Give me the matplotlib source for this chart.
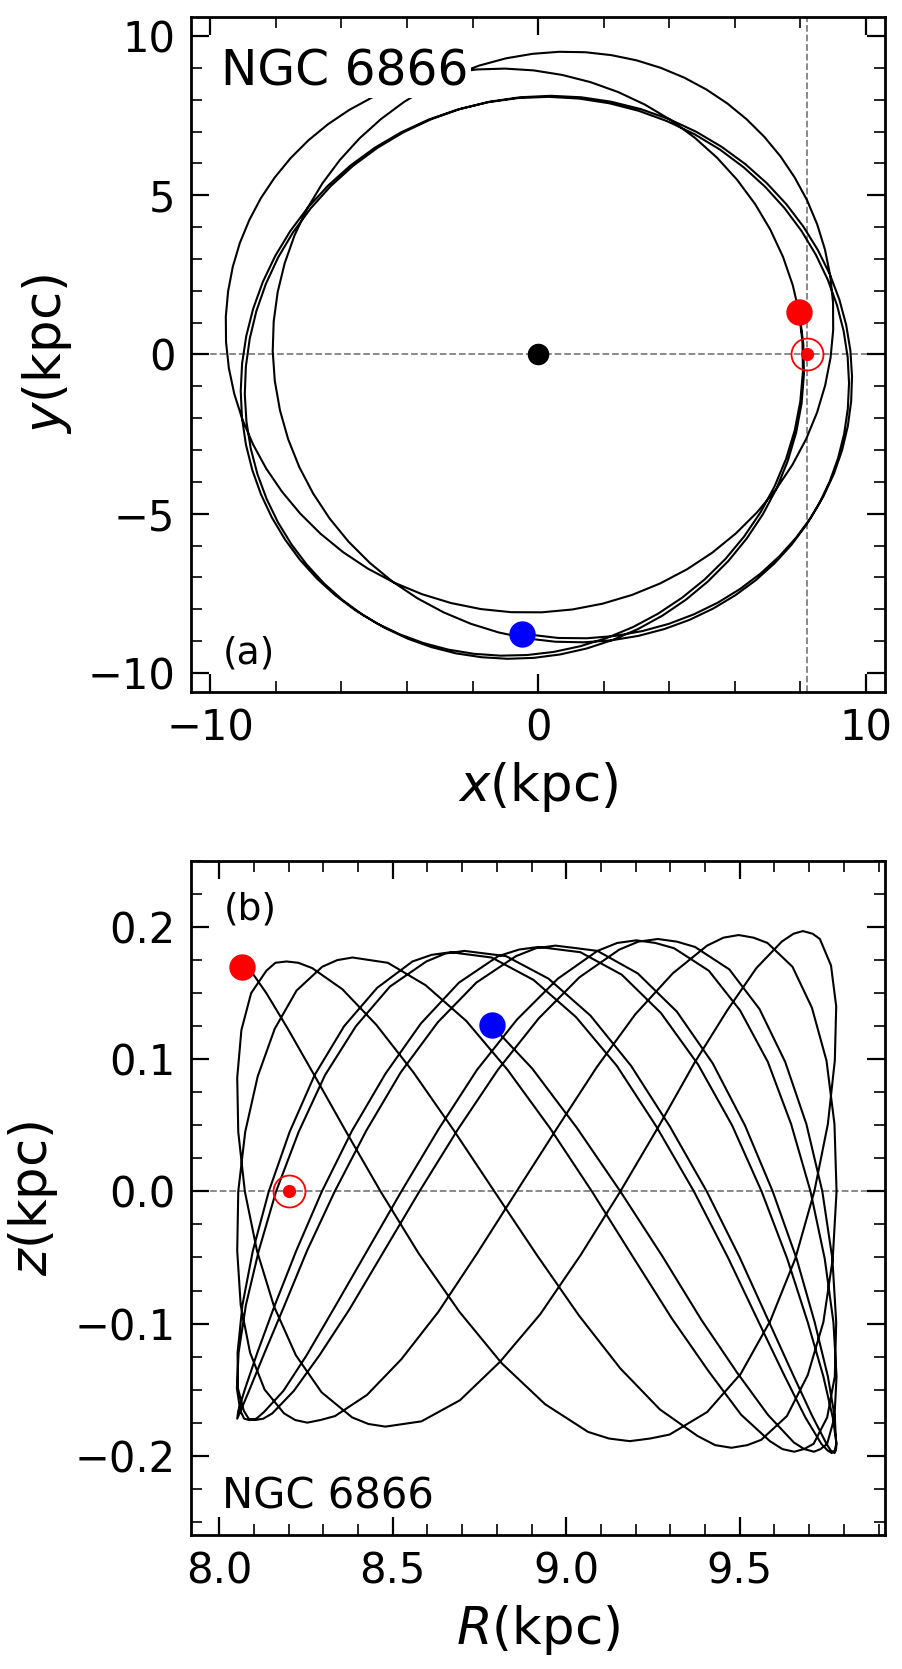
import matplotlib
matplotlib.use("Agg")
import matplotlib.pyplot as plt
from matplotlib.ticker import MultipleLocator

# cluster positions (kpc): present day, birth, plus the Sun and the Galactic centre
now_xy = (7.96, 1.33)
birth_xy = (-0.48, -8.77)
sun_xy = (8.2, 0.0)
gc_xy = (0.0, 0.0)
now_Rz = (8.065, 0.170)
birth_Rz = (8.785, 0.126)
sun_Rz = (8.2, 0.0)

# orbit in the Galactic plane, traced from the present position back to birth
orbit_x = [
    7.960, 8.067, 8.081, 8.002, 7.830, 7.567, 7.218, 6.790, 6.285, 5.716, 5.080, 4.393,
    3.665, 2.901, 2.109, 1.300, 0.483, -0.337, -1.150, -1.952, -2.734, -3.493, -4.222, -4.917,
    -5.573, -6.186, -6.748, -7.268, -7.721, -8.122, -8.456, -8.722, -8.917, -9.035, -9.074, -9.032,
    -8.906, -8.695, -8.400, -8.021, -7.560, -7.020, -6.406, -5.724, -4.980, -4.181, -3.337, -2.454,
    -1.545, -0.616, 0.320, 1.254, 2.175, 3.075, 3.942, 4.772, 5.547, 6.272, 6.928, 7.519,
    8.037, 8.478, 8.840, 9.122, 9.324, 9.446, 9.488, 9.451, 9.340, 9.155, 8.900, 8.575,
    8.184, 7.730, 7.214, 6.642, 6.016, 5.339, 4.620, 3.858, 3.061, 2.236, 1.388, 0.528,
    -0.339, -1.202, -2.052, -2.880, -3.677, -4.432, -5.135, -5.783, -6.361, -6.864, -7.288, -7.627,
    -7.876, -8.034, -8.098, -8.068, -7.946, -7.732, -7.431, -7.045, -6.582, -6.050, -5.450, -4.798,
    -4.095, -3.355, -2.583, -1.789, -0.983, -0.170, 0.642, 1.445, 2.234, 3.002, 3.745, 4.458,
    5.134, 5.772, 6.363, 6.908, 7.401, 7.834, 8.208, 8.516, 8.753, 8.914, 9.000, 9.004,
    8.924, 8.760, 8.511, 8.176, 7.757, 7.258, 6.681, 6.033, 5.319, 4.549, 3.727, 2.863,
    1.967, 1.047, 0.114, -0.821, -1.749, -2.661, -3.544, -4.392, -5.196, -5.945, -6.636, -7.262,
    -7.817, -8.299, -8.701, -9.026, -9.272, -9.437, -9.522, -9.529, -9.460, -9.317, -9.101, -8.813,
    -8.460, -8.038, -7.554, -7.012, -6.413, -5.761, -5.060, -4.315, -3.531, -2.714, -1.871, -1.010,
    -0.139, 0.732, 1.596, 2.442, 3.262, 4.043, 4.777, 5.459, 6.073, 6.620, 7.088, 7.474,
    7.771, 7.978, 8.092, 8.112, 8.040, 7.875, 7.619, 7.281, 6.862, 6.367, 5.810, 5.184,
    4.514, 3.799, 3.049, 2.273, 1.480, 0.675, -0.132, -0.934, -1.726, -2.503, -3.257, -3.984,
    -4.681, -5.341, -5.959, -6.533, -7.057, -7.525, -7.937, -8.283, -8.563, -8.769, -8.899, -8.950,
    -8.917, -8.799, -8.596, -8.306, -7.932, -7.474, -6.937, -6.327, -5.648, -4.904, -4.107, -3.263,
    -2.383, -1.475, -0.548, 0.386, 1.318, 2.238, 3.135, 4.002, 4.828, 5.603, 6.328, 6.984,
    7.576, 8.094, 8.538, 8.904, 9.192, 9.401, 9.529, 9.579, 9.553, 9.451, 9.275, 9.027,
    8.710, 8.326, 7.876, 7.365, 6.791, 6.164, 5.486, 4.759, 3.990, 3.184, 2.348, 1.490,
    0.618, -0.482,
]
orbit_y = [
    1.331, 0.401, -0.536, -1.468, -2.386, -3.278, -4.137, -4.954, -5.719, -6.423, -7.068, -7.640,
    -8.138, -8.559, -8.899, -9.160, -9.341, -9.440, -9.460, -9.402, -9.271, -9.065, -8.789, -8.446,
    -8.037, -7.566, -7.039, -6.447, -5.813, -5.124, -4.394, -3.625, -2.823, -1.995, -1.146, -0.286,
    0.577, 1.436, 2.279, 3.096, 3.881, 4.622, 5.308, 5.937, 6.496, 6.978, 7.380, 7.695,
    7.921, 8.054, 8.093, 8.038, 7.891, 7.652, 7.327, 6.920, 6.438, 5.881, 5.268, 4.597,
    3.882, 3.128, 2.347, 1.546, 0.733, -0.083, -0.897, -1.699, -2.485, -3.249, -3.985, -4.688,
    -5.356, -5.980, -6.561, -7.090, -7.564, -7.982, -8.335, -8.622, -8.838, -8.978, -9.040, -9.022,
    -8.919, -8.731, -8.459, -8.101, -7.661, -7.142, -6.546, -5.880, -5.152, -4.367, -3.533, -2.659,
    -1.756, -0.832, 0.103, 1.037, 1.963, 2.868, 3.744, 4.584, 5.375, 6.109, 6.787, 7.392,
    7.930, 8.392, 8.774, 9.077, 9.302, 9.444, 9.508, 9.494, 9.403, 9.240, 9.003, 8.697,
    8.324, 7.887, 7.389, 6.831, 6.217, 5.553, 4.842, 4.088, 3.297, 2.476, 1.631, 0.769,
    -0.100, -0.968, -1.825, -2.662, -3.471, -4.239, -4.959, -5.622, -6.221, -6.744, -7.190, -7.553,
    -7.827, -8.009, -8.098, -8.094, -7.996, -7.806, -7.528, -7.166, -6.725, -6.212, -5.632, -4.993,
    -4.306, -3.578, -2.817, -2.033, -1.232, -0.423, 0.387, 1.190, 1.980, 2.753, 3.503, 4.222,
    4.910, 5.558, 6.166, 6.724, 7.231, 7.683, 8.076, 8.403, 8.661, 8.845, 8.953, 8.980,
    8.924, 8.782, 8.556, 8.244, 7.847, 7.369, 6.812, 6.182, 5.487, 4.728, 3.918, 3.064,
    2.176, 1.262, 0.332, -0.604, -1.534, -2.450, -3.341, -4.198, -5.013, -5.778, -6.481, -7.127,
    -7.699, -8.199, -8.623, -8.968, -9.235, -9.421, -9.529, -9.558, -9.509, -9.388, -9.191, -8.924,
    -8.587, -8.185, -7.719, -7.190, -6.603, -5.966, -5.274, -4.539, -3.762, -2.950, -2.110, -1.251,
    -0.378, 0.497, 1.367, 2.220, 3.050, 3.844, 4.593, 5.290, 5.924, 6.491, 6.981, 7.389,
    7.710, 7.941, 8.080, 8.126, 8.079, 7.938, 7.707, 7.391, 6.994, 6.522, 5.976, 5.375,
    4.719, 4.018, 3.279, 2.513, 1.727, 0.928, 0.124, -0.678, -1.471, -2.250, -3.010, -3.744,
    -4.449, -5.119, -5.749, -6.336, -6.878, -7.364, -7.793, -8.159, -8.460, -8.687, -8.840, -8.913,
    -8.904, -8.772,
]

# meridional orbit, from birth to the present position
orbit_R = [
    8.773, 8.902, 9.031, 9.156, 9.277, 9.389, 9.492, 9.581, 9.656, 9.686, 9.714, 9.733,
    9.752, 9.773, 9.779, 9.770, 9.745, 9.704, 9.648, 9.581, 9.501, 9.411, 9.311, 9.257, 9.202, 9.147,
    9.090, 8.976, 8.858, 8.743, 8.632, 8.525, 8.424, 8.332, 8.252, 8.185, 8.129, 8.107, 8.087, 8.072,
    8.061, 8.051, 8.056, 8.077, 8.114, 8.164, 8.229, 8.305, 8.394, 8.492, 8.597, 8.652, 8.707, 8.767,
    8.827, 8.949, 9.070, 9.187, 9.299, 9.405, 9.500, 9.583, 9.654, 9.709, 9.750, 9.762, 9.773, 9.777,
    9.779, 9.768, 9.741, 9.696, 9.637, 9.563, 9.478, 9.380, 9.273, 9.160, 9.041, 8.980, 8.920, 8.864,
    8.804, 8.691, 8.581, 8.479, 8.383, 8.296, 8.222, 8.159, 8.110, 8.075, 8.055, 8.052,
    8.062, 8.089, 8.131, 8.187, 8.253, 8.333, 8.424, 8.523, 8.630, 8.741, 8.855, 8.913, 8.969, 9.031,
    9.090, 9.206, 9.319, 9.422, 9.515, 9.595, 9.664, 9.716, 9.754, 9.774, 9.778, 9.774, 9.765, 9.753,
    9.735, 9.689, 9.628, 9.553, 9.466, 9.368, 9.260, 9.146, 9.028, 8.906, 8.785, 8.726, 8.667, 8.612,
    8.557, 8.455, 8.360, 8.275, 8.203, 8.143, 8.097, 8.067, 8.053, 8.054, 8.071, 8.085, 8.104, 8.127,
    8.153, 8.215, 8.289, 8.376, 8.473, 8.577, 8.688, 8.803, 8.921, 9.038, 9.153, 9.208, 9.264, 9.319,
    9.371, 9.470, 9.557, 9.631, 9.692, 9.738, 9.767, 9.778, 9.774, 9.752, 9.713, 9.685, 9.657, 9.623,
    9.587, 9.504, 9.410, 9.304, 9.191, 9.074, 8.953, 8.831, 8.712, 8.595, 8.486, 8.434, 8.384, 8.340,
    8.297, 8.223, 8.160, 8.111, 8.075, 8.055, 8.052, 8.062, 8.089, 8.131, 8.187, 8.219, 8.254, 8.292,
    8.334, 8.426, 8.525, 8.632, 8.743, 8.857, 8.974, 9.088, 9.199, 9.307, 9.406, 9.453, 9.497, 9.540,
    9.580, 9.652, 9.708, 9.750, 9.773, 9.779, 9.768, 9.741, 9.696, 9.636, 9.562, 9.522, 9.476, 9.429,
    9.378, 9.270, 9.156, 9.037, 8.915, 8.793, 8.674, 8.560, 8.453, 8.355, 8.268, 8.228, 8.194, 8.162,
    8.136, 8.092, 8.064, 8.052, 8.055, 8.074, 8.109, 8.158, 8.221, 8.295, 8.383, 8.430, 8.479, 8.532,
    8.583, 8.694, 8.809, 8.925, 9.042, 9.156, 9.266, 9.369, 9.464, 9.548, 9.621, 9.655, 9.682, 9.710,
    9.731, 9.763, 9.778, 9.774, 9.754, 9.715, 9.660, 9.588, 9.503, 9.406, 9.298, 9.242, 9.183, 9.123,
    9.063, 8.939, 8.814, 8.692, 8.575, 8.465, 8.364, 8.274, 8.198, 8.136, 8.091, 8.073, 8.061, 8.050,
]
orbit_z = [
    0.129, 0.093, 0.048, 0.000, -0.049, -0.097, -0.137, -0.169, -0.190, -0.195, -0.197, -0.195,
    -0.191, -0.171, -0.140, -0.099, -0.051, 0.000, 0.051, 0.098, 0.137, 0.167, 0.184, 0.188, 0.190, 0.188,
    0.182, 0.161, 0.130, 0.092, 0.047, 0.000, -0.046, -0.088, -0.124, -0.151, -0.167, -0.172, -0.173, -0.172,
    -0.166, -0.149, -0.122, -0.086, -0.045, 0.000, 0.045, 0.088, 0.125, 0.155, 0.174, 0.180, 0.182, 0.180,
    0.178, 0.161, 0.133, 0.095, 0.049, 0.000, -0.050, -0.098, -0.139, -0.170, -0.191, -0.196, -0.198, -0.196,
    -0.191, -0.171, -0.140, -0.099, -0.051, 0.000, 0.050, 0.096, 0.135, 0.164, 0.181, 0.183, 0.185, 0.183,
    0.178, 0.158, 0.127, 0.089, 0.046, 0.000, -0.045, -0.087, -0.122, -0.149, -0.166, -0.172,
    -0.166, -0.149, -0.122, -0.087, -0.045, 0.000, 0.046, 0.090, 0.128, 0.158, 0.178, 0.184, 0.186, 0.184,
    0.182, 0.165, 0.136, 0.097, 0.050, 0.000, -0.051, -0.099, -0.140, -0.171, -0.191, -0.196, -0.198, -0.196,
    -0.191, -0.171, -0.139, -0.098, -0.050, 0.000, 0.049, 0.095, 0.132, 0.160, 0.177, 0.179, 0.181, 0.179,
    0.174, 0.154, 0.125, 0.088, 0.045, 0.000, -0.045, -0.086, -0.122, -0.149, -0.166, -0.172, -0.173, -0.172,
    -0.168, -0.151, -0.124, -0.089, -0.046, 0.000, 0.047, 0.092, 0.131, 0.162, 0.183, 0.189, 0.191, 0.189,
    0.185, 0.168, 0.138, 0.098, 0.051, 0.000, -0.051, -0.099, -0.140, -0.171, -0.191, -0.195, -0.197, -0.195,
    -0.189, -0.169, -0.136, -0.096, -0.049, 0.000, 0.048, 0.092, 0.129, 0.156, 0.173, 0.175, 0.177, 0.175,
    0.170, 0.152, 0.123, 0.087, 0.045, 0.000, -0.045, -0.086, -0.122, -0.150, -0.168, -0.173, -0.175, -0.173,
    -0.170, -0.154, -0.127, -0.091, -0.047, 0.000, 0.048, 0.094, 0.134, 0.165, 0.186, 0.192, 0.194, 0.192,
    0.188, 0.170, 0.139, 0.099, 0.051, 0.000, -0.051, -0.099, -0.139, -0.170, -0.188, -0.192, -0.194, -0.192,
    -0.185, -0.165, -0.134, -0.094, -0.048, 0.000, 0.047, 0.090, 0.126, 0.153, 0.169, 0.173, 0.174, 0.173,
    0.167, 0.150, 0.122, 0.086, 0.045, 0.000, -0.045, -0.087, -0.124, -0.152, -0.171, -0.176, -0.178, -0.176,
    -0.174, -0.158, -0.129, -0.093, -0.048, 0.000, 0.049, 0.097, 0.137, 0.169, 0.189, 0.195, 0.197, 0.195,
    0.191, 0.171, 0.140, 0.099, 0.051, 0.000, -0.051, -0.098, -0.138, -0.167, -0.184, -0.187, -0.189, -0.187,
    -0.182, -0.161, -0.130, -0.091, -0.047, 0.000, 0.046, 0.088, 0.123, 0.150, 0.167, 0.171, 0.172, 0.170,
]

plt.rcParams.update({
    "font.size": 30,
    "axes.linewidth": 2.0,
    "xtick.direction": "in",
    "ytick.direction": "in",
    "xtick.top": True,
    "ytick.right": True,
    "xtick.major.size": 12.7,
    "ytick.major.size": 12.7,
    "xtick.minor.size": 7.9,
    "ytick.minor.size": 7.9,
    "xtick.major.width": 1.6,
    "ytick.major.width": 1.6,
    "xtick.minor.width": 1.2,
    "ytick.minor.width": 1.2,
    "xtick.major.pad": 11,
    "ytick.major.pad": 11,
})

fig = plt.figure(figsize=(9.03, 16.69), dpi=100)
ax1 = fig.add_axes([0.2112, 0.5854, 0.7694, 0.4044])
ax2 = fig.add_axes([0.2112, 0.0803, 0.7694, 0.4038])

# (a) x-y plane
ax1.axhline(0, color="gray", ls="--", lw=1.3, zorder=1)
ax1.axvline(sun_xy[0], color="gray", ls="--", lw=1.3, zorder=1)
ax1.plot(orbit_x, orbit_y, color="black", lw=1.5, zorder=2)
ax1.plot(*gc_xy, "o", color="black", ms=14.5, zorder=4)
ax1.plot(*now_xy, "o", color="red", ms=18, zorder=5)
ax1.plot(*birth_xy, "o", color="blue", ms=18, zorder=5)
ax1.plot(*sun_xy, "o", ms=23, mfc="none", mec="red", mew=1.3, zorder=5)
ax1.plot(*sun_xy, "o", color="red", ms=8.5, zorder=5)
ax1.set_xlim(-10.6, 10.6)
ax1.set_ylim(-10.6, 10.6)
ax1.xaxis.set_major_locator(MultipleLocator(10))
ax1.xaxis.set_minor_locator(MultipleLocator(2))
ax1.yaxis.set_major_locator(MultipleLocator(5))
ax1.yaxis.set_minor_locator(MultipleLocator(1))
ax1.set_xlabel("$x$(kpc)", fontsize=37, labelpad=8)
ax1.set_ylabel("$y$(kpc)", fontsize=37, labelpad=10)
ax1.text(0.043, 0.899, "NGC 6866", transform=ax1.transAxes, fontsize=35,
         va="baseline", zorder=6,
         bbox=dict(facecolor="white", edgecolor="none", boxstyle="square,pad=0.05"))
ax1.text(0.046, 0.03, "(a)", transform=ax1.transAxes, fontsize=27, va="bottom")

# (b) R-z plane
ax2.axhline(0, color="gray", ls="--", lw=1.3, zorder=1)
ax2.plot(orbit_R, orbit_z, color="black", lw=1.5, zorder=2)
ax2.plot(*now_Rz, "o", color="red", ms=18, zorder=5)
ax2.plot(*birth_Rz, "o", color="blue", ms=18, zorder=5)
ax2.plot(*sun_Rz, "o", ms=23, mfc="none", mec="red", mew=1.3, zorder=5)
ax2.plot(*sun_Rz, "o", color="red", ms=8.5, zorder=5)
ax2.set_xlim(7.918, 9.92)
ax2.set_ylim(-0.26, 0.25)
ax2.xaxis.set_major_locator(MultipleLocator(0.5))
ax2.xaxis.set_minor_locator(MultipleLocator(0.1))
ax2.yaxis.set_major_locator(MultipleLocator(0.1))
ax2.yaxis.set_minor_locator(MultipleLocator(0.025))
ax2.xaxis.set_major_formatter(plt.FormatStrFormatter("%.1f"))
ax2.yaxis.set_major_formatter(plt.FuncFormatter(lambda v, p: f"{v:.1f}".replace("-", "\u2212")))
ax2.set_xlabel("$R$(kpc)", fontsize=37, labelpad=8)
ax2.set_ylabel("$z$(kpc)", fontsize=37, labelpad=10)
ax2.text(0.047, 0.955, "(b)", transform=ax2.transAxes, fontsize=27, va="top")
ax2.text(0.0446, 0.0396, "NGC 6866", transform=ax2.transAxes, fontsize=30, va="baseline")

fig.savefig("out.png", dpi=100)
